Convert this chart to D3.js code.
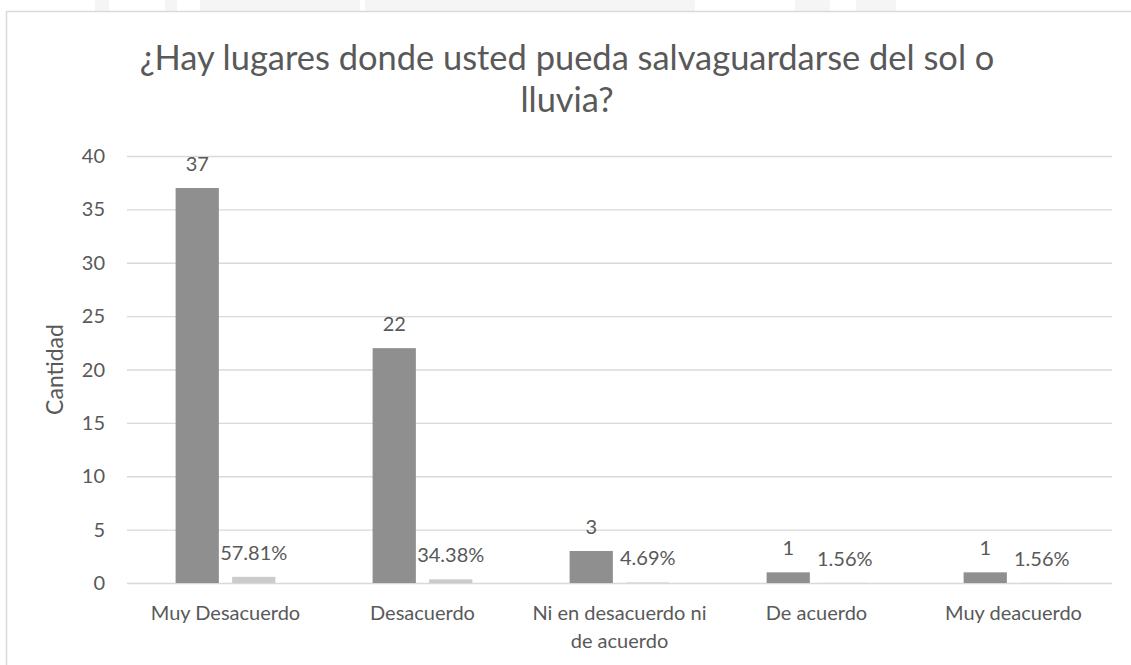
<!DOCTYPE html>
<html>
<head>
<meta charset="utf-8">
<script src="https://cdn.jsdelivr.net/npm/d3@7"></script>
<style>
  body { margin: 0; background: #fff; }
  svg text { font-family: Lato, "Liberation Sans", sans-serif; fill: #595959; }
</style>
</head>
<body>
<svg width="1131" height="665"></svg>
<script>
// datos
var categorias = ["Muy Desacuerdo", "Desacuerdo", "Ni en desacuerdo ni de acuerdo", "De acuerdo", "Muy deacuerdo"];
var cantidad = [37, 22, 3, 1, 1];
var porcentaje = [57.81, 34.38, 4.69, 1.56, 1.56];
var yTicks = [0, 5, 10, 15, 20, 25, 30, 35, 40];
var titulo = ["¿Hay lugares donde usted pueda salvaguardarse del sol o", "lluvia?"];

var svg = d3.select("svg"),
  width = +svg.attr("width"),
  height = +svg.attr("height");

// marca de agua tenue arriba
var wm = svg.append("g").attr("fill", "#f5f5f5");
[[95, 14], [165, 12], [200, 160], [365, 330], [795, 35], [856, 40]].forEach(function(r) {
  wm.append("rect").attr("x", r[0]).attr("y", 0).attr("width", r[1]).attr("height", 11);
});

// borde del grafico
svg.append("rect")
  .attr("x", 6.5).attr("y", 11.5)
  .attr("width", 1140).attr("height", 680)
  .attr("fill", "#fff").attr("stroke", "#d9d9d9").attr("stroke-width", 1.5);

var mLeft = 127, mRight = 1112, mTop = 156, mBottom = 583;
var fs = 20;

var x0 = d3.scaleBand().domain(categorias).range([mLeft, mRight]);
var x1 = d3.scaleBand().domain([0, 1]).range([0, x0.bandwidth()])
  .paddingInner(0.235).paddingOuter(0.86);
var y = d3.scaleLinear().domain([0, 40]).range([mBottom, mTop]);

// rejilla
svg.append("g")
  .attr("transform", "translate(" + mLeft + ",0)")
  .call(d3.axisLeft(y).tickValues(yTicks).tickSize(-(mRight - mLeft)).tickFormat(""))
  .call(function(g) {
    g.select(".domain").remove();
    g.selectAll("line").attr("stroke", "#d9d9d9").attr("stroke-width", 1.3);
  });

// etiquetas eje y
svg.append("g").selectAll("text").data(yTicks).join("text")
  .attr("x", 105).attr("y", function(d) { return y(d) + 7; })
  .attr("text-anchor", "end").attr("font-size", fs)
  .text(function(d) { return d; });

svg.append("text")
  .attr("transform", "translate(63," + (mTop + mBottom) / 2 + ") rotate(-90)")
  .attr("text-anchor", "middle").attr("font-size", 23)
  .text("Cantidad");

// barras
var grupos = svg.append("g").selectAll("g").data(categorias).join("g")
  .attr("transform", function(d) { return "translate(" + x0(d) + ",0)"; });

grupos.append("rect")
  .attr("x", x1(0)).attr("width", x1.bandwidth())
  .attr("y", function(d, i) { return y(cantidad[i]); })
  .attr("height", function(d, i) { return mBottom - y(cantidad[i]); })
  .attr("fill", "#8f8f8f");

grupos.append("rect")
  .attr("x", x1(1)).attr("width", x1.bandwidth())
  .attr("y", function(d, i) { return y(porcentaje[i] / 100); })
  .attr("height", function(d, i) { return mBottom - y(porcentaje[i] / 100); })
  .attr("fill", "#cbcbcb");

grupos.append("text")
  .attr("x", x1(0) + x1.bandwidth() / 2)
  .attr("y", function(d, i) { return y(cantidad[i]) - 17; })
  .attr("text-anchor", "middle").attr("font-size", fs)
  .text(function(d, i) { return cantidad[i]; });

grupos.append("text")
  .attr("x", x1(1) + x1.bandwidth() / 2)
  .attr("y", function(d, i) { return y(porcentaje[i] / 100) - 17; })
  .attr("text-anchor", "middle").attr("font-size", fs)
  .text(function(d, i) { return porcentaje[i].toFixed(2) + "%"; });

// etiquetas categorias (con salto de linea)
grupos.append("text")
  .attr("text-anchor", "middle").attr("font-size", fs)
  .each(function(d) {
    var t = d3.select(this), palabras = d.split(" "), linea = [], n = 0;
    var cx = x0.bandwidth() / 2;
    var ts = t.append("tspan").attr("x", cx).attr("y", 620);
    palabras.forEach(function(p) {
      linea.push(p);
      ts.text(linea.join(" "));
      if (ts.node().getComputedTextLength() > x0.bandwidth() - 10 && linea.length > 1) {
        linea.pop();
        ts.text(linea.join(" "));
        linea = [p];
        n++;
        ts = t.append("tspan").attr("x", cx).attr("y", 620 + n * 28).text(p);
      }
    });
  });

// titulo
var tt = svg.append("g").selectAll("text").data(titulo).join("text")
  .attr("x", 567).attr("y", function(d, i) { return 70 + i * 42; })
  .attr("text-anchor", "middle").attr("font-size", 30)
  .text(function(d) { return d; });
var w = tt.node().getComputedTextLength();
tt.attr("font-size", 30 * 855 / w);
</script>
</body>
</html>
